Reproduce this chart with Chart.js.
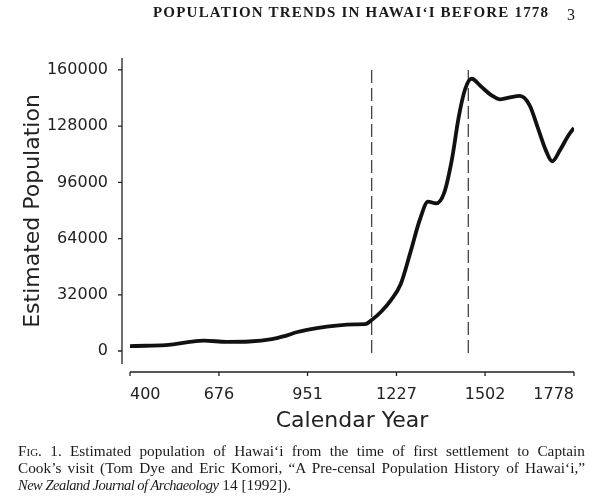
<!DOCTYPE html>
<html>
<head>
<meta charset="utf-8">
<script src="https://cdn.jsdelivr.net/npm/chart.js@4.4.1/dist/chart.umd.min.js"></script>
<style>
  body { margin: 0; background: #fff; }
  #page { position: relative; width: 595px; height: 503px; overflow: hidden; }
  #popChart { position: absolute; left: 0; top: 0; }
  .serif { font-family: "Liberation Serif", "DejaVu Serif", serif; color: #1a1a1a; }
  #runhead { position: absolute; left: 153px; top: 4px; font-size: 15px; font-weight: bold; letter-spacing: 1.2px; white-space: nowrap; }
  #folio { position: absolute; left: 567px; top: 6px; font-size: 16px; }
  #caption { position: absolute; left: 18px; top: 442px; width: 567px; font-size: 15.3px; line-height: 17px; }
  #caption .j { text-align: justify; text-align-last: justify; }
  #caption i { font-size: 14.5px; letter-spacing: -0.5px; }
</style>
</head>
<body>
<div id="page">
  <canvas id="popChart" width="595" height="503"></canvas>
  <div id="runhead" class="serif">POPULATION TRENDS IN HAWAI‘I BEFORE 1778</div>
  <div id="folio" class="serif">3</div>
  <div id="caption" class="serif">
    <div class="j"><span style="font-variant: small-caps">Fig.</span> 1. Estimated population of Hawai‘i from the time of first settlement to Captain</div>
    <div class="j">Cook’s visit (Tom Dye and Eric Komori, “A Pre-censal Population History of Hawai‘i,”</div>
    <div><i>New Zealand Journal of Archaeology</i> 14 [1992]).</div>
  </div>
</div>
<script>
// valores
var years = [400, 450, 520, 580, 630, 700, 770, 840, 880, 920, 980, 1040, 1100, 1130, 1150, 1180, 1210, 1240, 1270, 1300,
             1325, 1350, 1375, 1400, 1420, 1440, 1460, 1490, 1520, 1550, 1580, 1610, 1640, 1665, 1690, 1710, 1735, 1760, 1778];
var population = [2800, 3000, 3500, 5000, 5900, 5200, 5400, 6700, 8500, 10800, 13000, 14500, 15200, 15300, 17600, 22500, 29000, 38000, 56000, 75000,
                  85000, 84000, 90000, 110000, 133000, 149000, 155000, 150500, 145800, 143300, 144400, 145200, 140000, 127500, 114500, 108000, 114500, 122500, 127000];

var markerYears = [1150, 1450];
var markerTop = 160000;
var markerBottom = -2500;

var xTicks = [400, 676, 951, 1227, 1502, 1778];
var yTicks = [0, 32000, 64000, 96000, 128000, 160000];

var curve = years.map(function (yr, i) { return { x: yr, y: population[i] }; });

var markerSets = markerYears.map(function (yr) {
    return {
        data: [{ x: yr, y: markerTop }, { x: yr, y: markerBottom }],
        borderColor: '#444',
        borderWidth: 1.3,
        borderDash: [13, 5],
        pointRadius: 0,
        tension: 0,
        order: 2
    };
});

// ejes separados del area, estilo R
var detachedAxes = {
    id: 'detachedAxes',
    afterDraw: function (chart) {
        var c = chart.ctx, a = chart.chartArea;
        var xs = chart.scales.x, ys = chart.scales.y;
        var ax = a.left - 8, ay = a.bottom + 8;
        c.save();
        c.strokeStyle = '#222';
        c.lineWidth = 1.3;
        c.beginPath();
        c.moveTo(ax, a.top);
        c.lineTo(ax, a.bottom);
        yTicks.forEach(function (v) {
            var p = ys.getPixelForValue(v);
            c.moveTo(ax, p);
            c.lineTo(ax - 4, p);
        });
        c.moveTo(xs.getPixelForValue(xTicks[0]), ay);
        c.lineTo(xs.getPixelForValue(xTicks[xTicks.length - 1]), ay);
        xTicks.forEach(function (v) {
            var p = xs.getPixelForValue(v);
            c.moveTo(p, ay);
            c.lineTo(p, ay + 4);
        });
        c.stroke();
        c.restore();
    }
};

var ctx = document.getElementById('popChart');
var myChart = new Chart(ctx, {
    type: 'line',
    data: {
        datasets: [{
            data: curve,
            borderColor: '#111',
            borderWidth: 3.8,
            pointRadius: 0,
            tension: 0.4,
            cubicInterpolationMode: 'monotone',
            order: 1
        }].concat(markerSets)
    },
    options: {
        responsive: false,
        animation: false,
        layout: { padding: { top: 58, right: 18, bottom: 63, left: 0 } },
        plugins: { legend: { display: false }, tooltip: { enabled: false } },
        scales: {
            x: {
                type: 'linear',
                min: 400,
                max: 1778,
                grid: { display: false, drawTicks: false },
                border: { display: false },
                afterBuildTicks: function (s) { s.ticks = xTicks.map(function (v) { return { value: v }; }); },
                afterFit: function (s) { s.height = 76; },
                ticks: {
                    align: 'inner',
                    padding: 21,
                    maxRotation: 0,
                    color: '#222',
                    font: { family: 'DejaVu Sans', size: 16 },
                    callback: function (v) { return String(v); }
                },
                title: {
                    display: true,
                    text: 'Calendar Year',
                    color: '#222',
                    padding: { top: 0, bottom: 6 },
                    font: { family: 'DejaVu Sans', size: 22 }
                }
            },
            y: {
                min: -7400,
                max: 166800,
                grid: { display: false, drawTicks: false },
                border: { display: false },
                afterBuildTicks: function (s) { s.ticks = yTicks.map(function (v) { return { value: v }; }); },
                afterFit: function (s) { s.width = 130; },
                ticks: {
                    padding: 22,
                    color: '#222',
                    font: { family: 'DejaVu Sans', size: 16 },
                    callback: function (v) { return String(v); }
                },
                title: {
                    display: true,
                    text: 'Estimated Population',
                    color: '#222',
                    padding: { top: 20, bottom: 0 },
                    font: { family: 'DejaVu Sans', size: 22 }
                }
            }
        }
    },
    plugins: [detachedAxes]
});
</script>
</body>
</html>
